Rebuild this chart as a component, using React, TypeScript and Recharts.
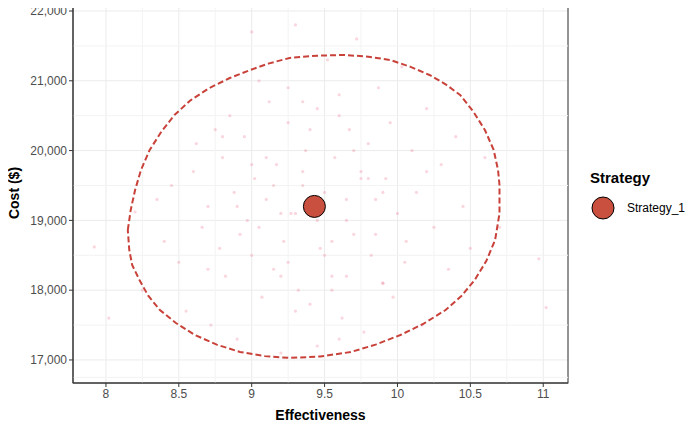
import { ComposedChart, Scatter, XAxis, YAxis, CartesianGrid, ReferenceLine, ReferenceDot } from 'recharts'

const xTicks = [8, 8.5, 9, 9.5, 10, 10.5, 11]
const yTicks = [17000, 18000, 19000, 20000, 21000, 22000]
const xMinor = [7.75, 8.25, 8.75, 9.25, 9.75, 10.25, 10.75]
const yMinor = [16750, 17500, 18500, 19500, 20500, 21500]

// simulated draws (effectiveness, cost), read roughly off the cloud
const simX = [
  7.92, 8.02, 8.2, 8.25, 8.35, 8.4, 8.45, 8.5, 8.55, 8.6, 8.62, 8.66, 8.7, 8.72, 8.75, 8.78, 8.8, 8.82,
  8.85, 8.88, 8.9, 8.92, 8.95, 8.97, 9.0, 9.02, 9.05, 9.07, 9.1, 9.12, 9.15, 9.17, 9.2, 9.22, 9.25,
  9.27, 9.3, 9.32, 9.35, 9.37, 9.4, 9.42, 9.45, 9.47, 9.5, 9.52, 9.55, 9.57, 9.6, 9.62, 9.65, 9.67,
  9.7, 9.72, 9.75, 9.77, 9.8, 9.82, 9.85, 9.87, 9.9, 9.92, 9.95, 9.97, 10.0, 10.03, 10.06, 10.1,
  10.13, 10.17, 10.2, 10.25, 10.3, 10.35, 10.4, 10.45, 10.5, 10.6, 10.7, 10.97, 11.02,
  9.05, 9.15, 9.25, 9.35, 9.45, 9.55, 9.65, 9.75, 9.85, 9.1, 9.3, 9.5, 9.7, 9.9, 8.9, 9.2, 9.4,
  9.6, 9.8, 10.05, 8.7, 9.0, 9.3, 9.6, 9.9, 10.2, 8.8, 9.45, 9.55, 9.35, 9.25, 9.65, 9.2, 9.0,
]
const simY = [
  18620, 17600, 19120, 18000, 19300, 18700, 19500, 18400, 17700, 19700, 20100, 18900, 19200, 17500,
  20300, 18600, 19900, 18200, 20500, 19400, 17300, 18800, 20200, 19000, 18500, 19600, 21000, 17900,
  19300, 20700, 18300, 19800, 17100, 18700, 20400, 19100, 21800, 18000, 19500, 20000, 17800, 19200,
  20600, 18600, 19400, 21300, 18200, 19900, 20800, 17600, 19000, 20300, 18800, 21600, 19700, 17400,
  20100, 18500, 19300, 20900, 18100, 19600, 20400, 17900, 19100, 21200, 18700, 20000, 19400, 17500,
  20600, 18900, 19800, 18300, 20200, 19200, 18600, 19900, 18900, 18450, 17750,
  18900, 19500, 18400, 19700, 19000, 18700, 19300, 19600, 18800, 19900, 19100, 18500, 20000, 19400,
  19200, 18200, 20300, 17300, 19600, 18400, 18300, 19800, 17700, 20500, 18100, 19700, 20200, 17200,
  18000, 20700, 20900, 18200, 19100, 21700,
]

// 95% ellipse outline
const ellX = [
  8.15, 8.17, 8.2, 8.24, 8.3, 8.38, 8.47, 8.58, 8.71, 8.85, 8.99, 9.12, 9.26, 9.45, 9.64, 9.8, 9.95,
  10.09, 10.22, 10.33, 10.43, 10.52, 10.6, 10.66, 10.69, 10.7, 10.7, 10.67, 10.61, 10.53, 10.44,
  10.33, 10.18, 10.02, 9.85, 9.68, 9.47, 9.26, 9.09, 8.92, 8.76, 8.61, 8.48, 8.37, 8.29, 8.23,
  8.18, 8.16, 8.15,
]
const ellY = [
  18862, 19150, 19435, 19720, 20009, 20270, 20510, 20720, 20897, 21040, 21155, 21250, 21327, 21360,
  21370, 21345, 21298, 21200, 21083, 20950, 20797, 20560, 20295, 20010, 19722, 19507, 19100, 18719,
  18420, 18146, 17920, 17716, 17520, 17358, 17220, 17114, 17050, 17029, 17055, 17114, 17220, 17358,
  17530, 17716, 17920, 18146, 18360, 18576, 18862,
]

const meanX = 9.43
const meanY = 19200

const sims = simX.map((x, i) => ({ x, y: simY[i] }))
const ellipse = ellX.map((x, i) => ({ x, y: ellY[i] }))

const tick = { fill: '#4d4d4d', fontSize: 12 }

export default function App() {
  return (
    <div style={{ margin: -8, position: 'relative', width: 700, height: 432, background: '#fff', fontFamily: 'Liberation Sans, Arial, sans-serif' }}>
      <ComposedChart width={700} height={432} margin={{ top: 5, right: 132, bottom: 0, left: 0 }}>
        <CartesianGrid stroke="#ebebeb" />
        {xMinor.map(v => <ReferenceLine key={'x' + v} x={v} stroke="#f3f3f3" />)}
        {yMinor.map(v => <ReferenceLine key={'y' + v} y={v} stroke="#f3f3f3" />)}
        <XAxis type="number" dataKey="x" domain={[7.774, 11.17]} ticks={xTicks} allowDataOverflow
          tick={tick} tickSize={4} stroke="#333" height={49} />
        <YAxis type="number" dataKey="y" domain={[16670, 22086]} ticks={yTicks} allowDataOverflow
          tick={tick} tickSize={4} stroke="#333" width={73}
          tickFormatter={(v: number) => v.toLocaleString('en-US')} />
        <Scatter data={sims} shape={(p: any) => <circle cx={p.cx} cy={p.cy} r={1.6} fill="rgba(240,120,145,0.3)" />} isAnimationActive={false} />
        <Scatter data={ellipse} line={{ stroke: '#c8423a', strokeWidth: 2, strokeDasharray: '6 3' }} shape={() => <g />} isAnimationActive={false} />
        <ReferenceDot x={meanX} y={meanY} r={11} fill="#c9503f" stroke="#000" strokeWidth={1} />
        <rect x={73} y={5} width={495} height={378} fill="none" stroke="#333" />
      </ComposedChart>
      <div style={{ position: 'absolute', left: 0, width: 641, textAlign: 'center', top: 407, fontSize: 14, fontWeight: 'bold' }}>Effectiveness</div>
      <div style={{ position: 'absolute', left: -186, width: 400, textAlign: 'center', top: 185, fontSize: 14, fontWeight: 'bold', transform: 'rotate(-90deg)' }}>Cost ($)</div>
      <div style={{ position: 'absolute', left: 590, top: 169, fontSize: 15, fontWeight: 'bold' }}>Strategy</div>
      <svg style={{ position: 'absolute', left: 590, top: 195 }} width={28} height={28}>
        <circle cx={13} cy={13} r={11} fill="#c9503f" stroke="#000" />
      </svg>
      <div style={{ position: 'absolute', left: 627, top: 201, fontSize: 12 }}>Strategy_1</div>
    </div>
  )
}
